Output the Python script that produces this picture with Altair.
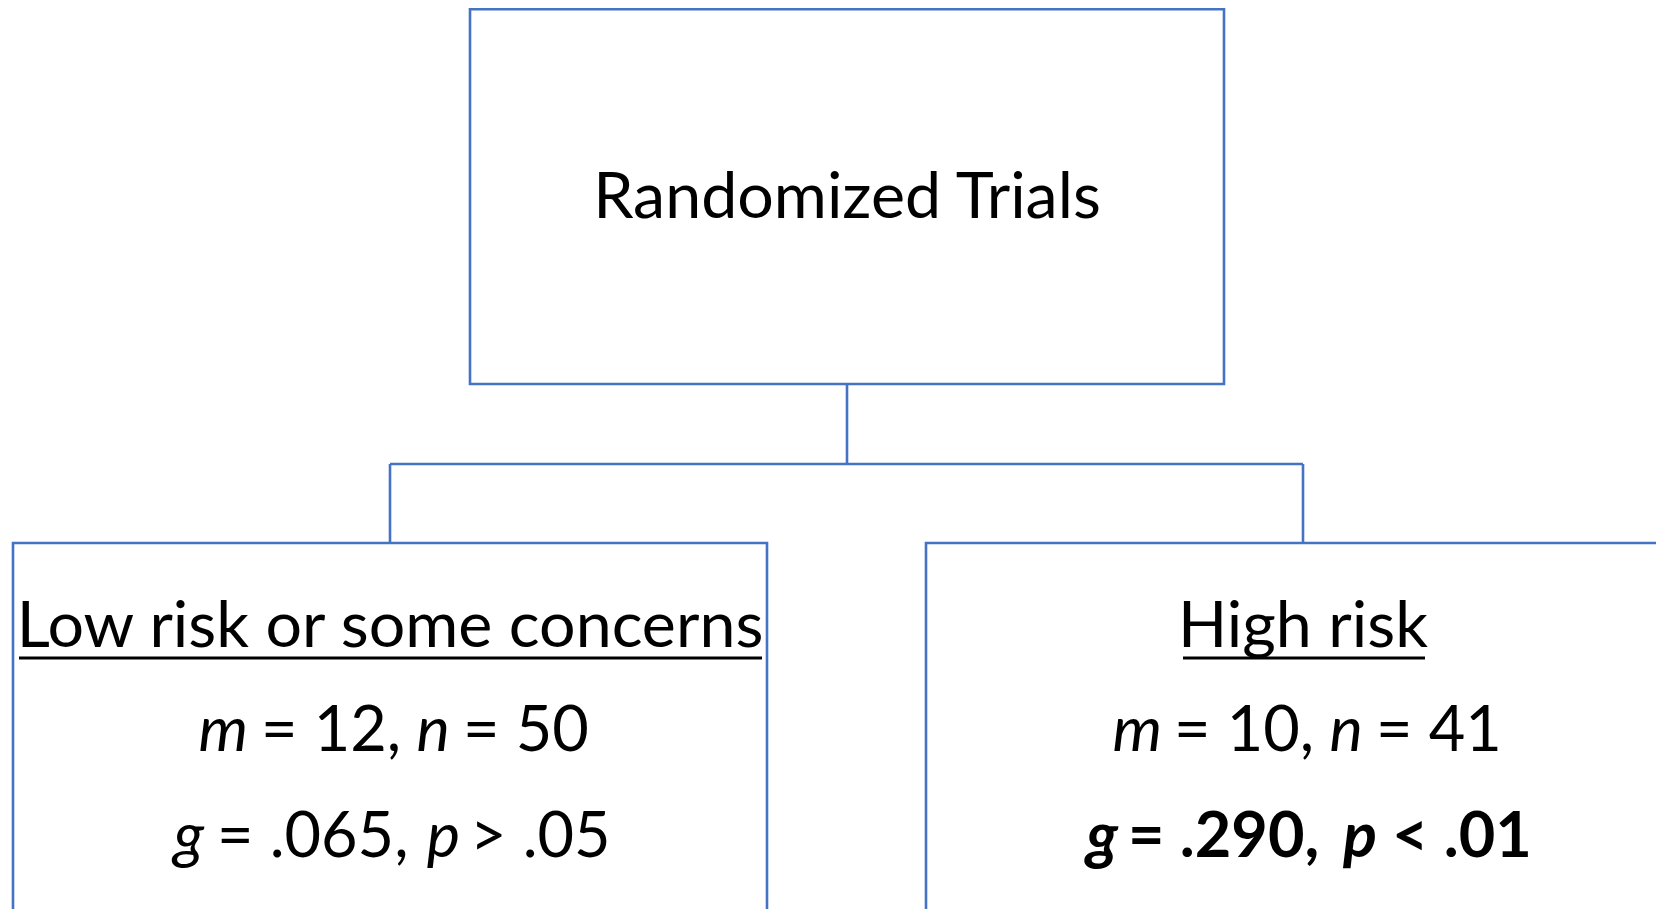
import altair as alt
import pandas as pd

# ---------------- data ----------------
root_label = "Randomized Trials"
groups = ["Low risk or some concerns", "High risk"]
m_counts = [12, 10]
n_counts = [50, 41]
g_values = [".065", ".290"]
p_signs = [">", "<"]
p_levels = [".05", ".01"]
significant = [False, True]

# ---------------- layout (page pixels) ----------------
W, H = 1648, 901
BLUE = "#4472C4"
FONT = "Lato"
FS_HEAD = 64.5
FS_LINE = 63
root_box = (470, 9.3, 1224, 384)
group_box_x = [(13, 767), (926, 1760)]
group_box_top = 543
group_box_bottom = 1000
centers = [390, 1303]
root_cx = 847
bus_y = 464
base_root, base_head, base_l2, base_l3 = 218, 647, 751, 857
under_y = 658
under_x = [(19, 762), (1183, 1425)]
# per group: (italic right-edge offsets, normal left-edge offsets) relative to centre
off_l2 = [([-142, 60], [-129, 73]), ([-141, 60], [-129, 73])]
off_l3 = [([-186, 70], [-173, 80]), ([-185, 74], [-175, 89])]

# ---------------- tables ----------------
root_df = pd.DataFrame([dict(x=root_box[0], x2=root_box[2], y=root_box[1], y2=root_box[3])])
boxes = pd.DataFrame([dict(x=bx[0], x2=bx[1], y=group_box_top, y2=group_box_bottom) for bx in group_box_x])
links = pd.DataFrame([
    dict(x=root_cx, x2=root_cx, y=root_box[3], y2=bus_y),
    dict(x=centers[0], x2=centers[1], y=bus_y, y2=bus_y),
    dict(x=centers[0], x2=centers[0], y=bus_y, y2=group_box_top),
    dict(x=centers[1], x2=centers[1], y=bus_y, y2=group_box_top),
])
unders = pd.DataFrame([dict(x=u[0], x2=u[1], y=under_y, y2=under_y) for u in under_x])

segs = [dict(x=root_cx, y=base_root, text=root_label, style="head", align="center")]
for i, g in enumerate(groups):
    c = centers[i]
    segs.append(dict(x=c, y=base_head, text=g, style="head", align="center"))
    pre = "bold" if significant[i] else ""
    lines = [
        (base_l2, ["m", "n"], [f"= {m_counts[i]},", f"= {n_counts[i]}"], off_l2[i], ""),
        (base_l3, ["g", "p"], [f"= {g_values[i]},", f"{p_signs[i]} {p_levels[i]}"], off_l3[i], pre),
    ]
    for y, itals, norms, (oi, on), p in lines:
        for t, o in zip(itals, oi):
            segs.append(dict(x=c + o, y=y, text=t, style=p + "italic", align="right"))
        for t, o in zip(norms, on):
            segs.append(dict(x=c + o, y=y, text=t, style=p + "normal", align="left"))
segs = pd.DataFrame(segs)

xs = alt.Scale(domain=[8, 8 + W], nice=False, zero=False)
ys = alt.Scale(domain=[8, 8 + H], nice=False, zero=False, reverse=True)
X = lambda f="x": alt.X(f"{f}:Q", scale=xs, axis=None)
Y = lambda f="y": alt.Y(f"{f}:Q", scale=ys, axis=None)

root_layer = alt.Chart(root_df).mark_rect(filled=False, stroke=BLUE, strokeWidth=2.6).encode(
    x=X(), x2="x2:Q", y=Y(), y2="y2:Q")
box_layer = alt.Chart(boxes).mark_rect(filled=False, stroke=BLUE, strokeWidth=2.6, clip=True).encode(
    x=X(), x2="x2:Q", y=Y(), y2="y2:Q")
link_layer = alt.Chart(links).mark_rule(color=BLUE, strokeWidth=2.6).encode(
    x=X(), x2="x2:Q", y=Y(), y2="y2:Q")
under_layer = alt.Chart(unders).mark_rule(color="black", strokeWidth=3.2).encode(
    x=X(), x2="x2:Q", y=Y(), y2="y2:Q")

def text_layer(style, align):
    kw = dict(font=FONT, fontSize=FS_HEAD if style == "head" else FS_LINE,
              color="black", align=align, baseline="alphabetic")
    if "italic" in style:
        kw["fontStyle"] = "italic"
    if style.startswith("bold"):
        kw["fontWeight"] = "bold"
    sub = segs[(segs["style"] == style) & (segs["align"] == align)]
    return alt.Chart(sub).mark_text(**kw).encode(x=X(), y=Y(), text="text:N")

text_layers = [text_layer(st, al) for (st, al), _ in segs.groupby(["style", "align"])]

chart = alt.layer(root_layer, box_layer, link_layer, under_layer, *text_layers).properties(
    width=W, height=H, padding=0, autosize=alt.AutoSizeParams(type="none")
).configure_view(stroke=None)

chart.save("out.html", embed_options={"renderer": "svg", "actions": False})
